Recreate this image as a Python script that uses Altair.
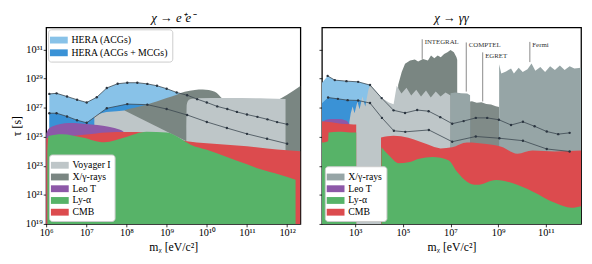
import altair as alt
import pandas as pd

FONT = "Liberation Serif"

# ---------------- values (log10 units) ----------------
# ---- left panel: chi -> e+ e- ----
L_HERA_ACG_X = [6.08, 6.26, 6.52, 6.77, 7.01, 7.26, 7.51, 7.78, 8.02, 8.27, 8.52, 8.76, 9.0, 9.25,
                9.51, 9.76, 10.0, 10.26, 10.51, 10.75, 11.0, 11.26, 11.51, 11.75, 12.0]
L_HERA_ACG_Y = [27.95, 27.99, 27.77, 27.55, 27.36, 27.72, 28.36, 28.65, 28.72, 28.72, 28.64, 28.51, 28.31, 28.05,
                27.86, 27.59, 27.36, 27.09, 26.91, 26.71, 26.53, 26.37, 26.2, 26.01, 25.86]
L_HERA_MCG_X = [6.08, 6.26, 6.52, 6.77, 7.01, 7.51, 8.02, 8.52, 9.0, 9.51, 10.0, 10.5, 11.0, 11.5, 12.0]
L_HERA_MCG_Y = [26.62, 26.62, 26.4, 26.14, 25.96, 26.96, 27.25, 27.21, 26.91, 26.5, 26.02, 25.6, 25.2, 24.86, 24.52]

L_VOY_A_X = [7.2, 7.35, 7.5, 7.75, 7.95, 8.7, 9.49]
L_VOY_A_Y = [26.42, 26.6, 26.71, 26.76, 26.8, 25.78, 24.7]
L_VOY_B_X = [9.49, 9.5, 9.54, 9.6, 9.75, 10.5, 11.5, 11.96]
L_VOY_B_Y = [25.4, 27.2, 27.5, 27.6, 27.65, 27.66, 27.63, 27.6]

L_XRAY_X = [7.9, 7.95, 8.2, 8.5, 8.75, 9.0, 9.25, 9.45, 9.7, 9.9, 10.2, 10.4, 10.6, 11.3, 11.6, 11.7,
            12.0, 12.33]
L_XRAY_Y = [26.5, 26.8, 27.0, 27.21, 27.42, 27.66, 27.9, 28.1, 28.22, 28.25, 28.1, 27.6, 27.3, 27.0, 27.3,
            27.43, 27.9, 28.5]

L_LEO_X = [6.0, 6.05, 6.15, 6.57, 7.13, 7.7, 7.95, 8.05]
L_LEO_Y = [25.2, 25.5, 25.7, 25.95, 25.85, 25.6, 25.3, 24.8]

L_CMB_X = [6.0, 7.0, 7.5, 8.0, 8.5, 9.0, 9.5, 10.0, 10.5, 11.0, 11.5, 12.0, 12.33]
L_CMB_Y = [24.9, 25.15, 25.3, 25.33, 25.3, 25.0, 24.7, 24.55, 24.45, 24.35, 24.2, 24.08, 24.0]

L_LYA_X = [6.03, 6.06, 6.4, 6.9, 7.45, 7.95, 8.5, 9.0, 9.3, 9.6, 10.0, 10.5, 11.0, 11.3, 11.8, 12.21]
L_LYA_Y = [24.0, 25.05, 25.18, 24.95, 24.62, 24.95, 25.34, 25.29, 24.95, 24.45, 24.1, 23.6, 23.1, 22.8,
           22.4, 22.05]

# ---- right panel: chi -> gamma gamma ----
R_HERA_ACG_X = [1.84, 2.14, 2.63, 3.12, 3.62, 4.11, 4.61, 5.09, 5.6, 6.08, 6.57, 7.07, 7.55, 8.06, 8.54,
                9.03, 9.54, 10.04, 10.53, 11.04, 11.52, 12.0]
R_HERA_ACG_Y = [29.19, 28.9, 28.83, 28.78, 28.56, 27.66, 26.82, 26.64, 26.84, 26.76, 26.35, 25.9, 26.08, 26.3,
                26.3, 26.17, 25.81, 26.03, 25.72, 25.36, 25.18, 25.27]
R_HERA_MCG_X = [1.86, 2.27, 2.68, 3.12, 3.62, 4.12, 4.62, 5.1, 6.09, 7.07, 8.06, 9.05, 10.04, 11.04, 12.0]
R_HERA_MCG_Y = [27.7, 27.61, 27.52, 27.5, 27.32, 26.3, 25.41, 25.34, 25.47, 24.66, 25.02, 24.9, 24.73, 24.16, 23.99]
R_EDGE_X = [1.6]
R_EDGE_ACG_Y = [28.7]
R_EDGE_MCG_Y = [27.3]

R_LIGHT_X = [2.75, 2.81, 2.89, 2.97, 3.09, 3.18, 3.3, 3.42, 3.55, 3.63, 4.12, 4.41, 4.61, 4.74, 4.94, 5.15,
             5.35, 5.56, 5.76, 5.97, 6.17, 6.38, 6.58, 6.79, 7.0]
R_LIGHT_Y = [26.0, 26.62, 27.09, 26.62, 27.43, 26.89, 27.77, 27.09, 28.24, 28.58, 27.66, 27.36, 27.23, 28.51,
             27.97, 28.38, 27.84, 28.24, 27.77, 28.18, 27.7, 28.11, 27.77, 28.04, 27.84]
R_INTEGRAL_X = [4.8, 4.95, 5.09, 5.3, 5.5, 5.64, 5.84, 6.05, 6.18, 6.32, 6.46, 6.59, 6.73, 6.87, 7.0, 7.14,
                7.25, 7.28]
R_INTEGRAL_Y = [28.56, 29.46, 30.02, 30.25, 30.32, 30.18, 30.36, 30.25, 30.59, 30.41, 30.59, 30.47, 30.7, 30.81,
                30.97, 30.81, 30.47, 30.3]
R_COMPTEL_X = [7.0, 7.2, 7.45, 7.7, 7.82]
R_COMPTEL_Y = [28.0, 28.04, 28.0, 27.97, 27.85]
R_EGRET_X = [7.82, 7.9, 8.1, 8.3, 8.5, 8.7, 8.9, 9.04]
R_EGRET_Y = [27.43, 27.45, 27.35, 27.38, 27.25, 27.22, 27.1, 27.05]
R_FERMI_X = [9.04, 9.13, 9.33, 9.54, 9.66, 9.86, 10.03, 10.23, 10.4, 10.56, 10.77, 10.97, 11.18, 11.38, 11.59,
             11.79, 12.0, 12.2, 12.48]
R_FERMI_Y = [30.0, 29.35, 29.5, 29.7, 29.35, 29.75, 29.45, 29.65, 30.05, 29.55, 29.8, 29.45, 29.85, 29.6, 29.9,
             29.6, 29.85, 29.7, 29.75]

R_LEO_X = [1.62, 1.75, 2.0, 2.3, 2.6, 2.72, 2.8]
R_LEO_Y = [25.9, 26.15, 26.22, 26.22, 26.12, 25.95, 25.5]
R_CMB_A_X = [1.6, 2.0, 2.4, 2.8, 3.04]
R_CMB_A_Y = [26.07, 26.0, 25.9, 25.86, 25.84]
R_CMB_B_X = [4.08, 4.61, 5.23, 6.05, 6.58, 7.07, 7.69, 8.51, 9.13, 9.81, 10.44, 11.38, 12.48]
R_CMB_B_Y = [24.95, 25.07, 24.93, 24.46, 24.2, 24.28, 24.61, 24.5, 24.32, 23.83, 24.05, 23.99, 24.05]
R_LYA_A_X = [1.6, 1.86, 1.88, 2.3, 2.8, 3.04]
R_LYA_A_Y = [24.6, 24.7, 25.3, 25.35, 25.3, 25.3]
R_LYA_B_X = [4.1, 4.41, 4.82, 5.23, 5.68, 6.25, 6.91, 7.28, 7.69, 8.1, 8.92, 9.62, 10.44, 11.38, 12.08, 12.48]
R_LYA_B_Y = [24.28, 23.72, 23.18, 23.24, 23.49, 23.6, 23.38, 22.57, 21.91, 21.69, 22.03, 21.8, 21.24, 20.45,
             20.11, 20.22]

ANN_LABELS = ["INTEGRAL", "COMPTEL", "EGRET", "Fermi"]
ANN_X = [5.81, 7.66, 8.35, 10.33]
ANN_TOP = [31.71, 31.49, 30.81, 31.53]
ANN_BOT = [30.36, 28.11, 27.43, 30.14]
ANN_TEXT_Y = [31.5, 31.32, 30.58, 31.32]

# axes
L_XTICKS = [6, 7, 8, 9, 10, 11, 12]
R_XTICKS = [3, 5, 7, 9, 11]
YTICKS = [19, 21, 23, 25, 27, 29, 31]
L_XDOM = [6.0, 12.33]
R_XDOM = [1.6, 12.48]
YDOM = [19.0, 32.53]

LEFT_CATS = ["Voyager I", "X/γ-rays", "Leo T", "Ly-α", "CMB"]
LEFT_COLS = ["#bec6c8", "#7a8682", "#8d58a8", "#57b368", "#dc4b4e"]
RIGHT_CATS = ["X/γ-rays", "Leo T", "Ly-α", "CMB"]
RIGHT_COLS = ["#96a5a6", "#8d58a8", "#57b368", "#dc4b4e"]
HERA_CATS = ["HERA (ACGs)", "HERA (ACGs + MCGs)"]
HERA_COLS = ["#88c2e8", "#3a92d6"]

C_LIGHT = "#bec6c8"
C_DARK = "#7a8682"

SUP = str.maketrans("0123456789", "⁰¹²³⁴⁵⁶⁷⁸⁹")


def sup_expr(exps):
    e = "round(log(datum.value)/LN10)"
    s = "''"
    for k in reversed(exps):
        s = f"({e} == {k} ? '10{str(k).translate(SUP)}' : {s})"
    return s


def frame(xs, ys, cat=None):
    d = pd.DataFrame({"m": [10.0 ** v for v in xs], "tau": [10.0 ** v for v in ys]})
    d["base"] = 1e19
    if cat is not None:
        d["cat"] = cat
    return d


YSCALE = alt.Scale(type="log", domain=[10.0 ** YDOM[0], 10.0 ** YDOM[1]])


def xenc(dom, ticks):
    return alt.X("m:Q", scale=alt.Scale(type="log", domain=[10.0 ** dom[0], 10.0 ** dom[1]]),
                 axis=alt.Axis(values=[10.0 ** t for t in ticks], labelExpr=sup_expr(ticks),
                               title="mᵪ [eV/c²]", labelFlush=False))


def yenc(show):
    ax = alt.Axis(values=[10.0 ** t for t in YTICKS], labelExpr=sup_expr(YTICKS),
                  title="τ [s]" if show else None, labels=show, titlePadding=2)
    return alt.Y("tau:Q", scale=YSCALE, axis=ax)


def legend_box(orient, offset, rowpad):
    return alt.Legend(title=None, orient=orient, offset=offset, fillColor="white", strokeColor="#cccccc",
                      cornerRadius=3, padding=4, labelFont=FONT, labelFontSize=10, labelColor="black",
                      symbolType="M-1.3,-0.5H1.3V0.5H-1.3Z", symbolSize=196, symbolStrokeWidth=0,
                      symbolOpacity=1, rowPadding=rowpad, labelOffset=6)


def area(df, X, Y, fill=None, color=None, interp="monotone"):
    enc = dict(x=X, y=Y, y2=alt.Y2("base:Q"))
    if color is not None:
        enc["color"] = color
    else:
        enc["fill"] = fill
    return alt.Chart(df).mark_area(interpolate=interp, clip=True, strokeWidth=0).encode(**enc)


def hera_line(df, X, Y):
    return alt.Chart(df).mark_line(color="#3b4650", strokeWidth=0.8, clip=True,
                                   point=alt.OverlayMarkDef(filled=True, size=6, color="#2b3540")
                                   ).encode(x=X, y=Y)


# ---------------- left panel ----------------
XL = xenc(L_XDOM, L_XTICKS)
YL = yenc(True)
lscale = alt.Scale(domain=LEFT_CATS, range=LEFT_COLS)
lleg = legend_box("bottom-left", 3, 0)
hscale = alt.Scale(domain=HERA_CATS, range=HERA_COLS)
hleg = legend_box("top-left", 2, 1)


def lfill(cat_df, interp="monotone"):
    return area(cat_df, XL, YL, fill=alt.Fill("cat:N", scale=lscale, legend=lleg), interp=interp)


left = alt.layer(
    area(frame(L_HERA_ACG_X, L_HERA_ACG_Y, HERA_CATS[0]), XL, YL,
         color=alt.Color("cat:N", scale=hscale, legend=hleg), interp="linear"),
    area(frame(L_HERA_MCG_X, L_HERA_MCG_Y, HERA_CATS[1]), XL, YL,
         color=alt.Color("cat:N", scale=hscale, legend=hleg), interp="linear"),
    lfill(frame(L_XRAY_X, L_XRAY_Y, "X/γ-rays")),
    lfill(frame(L_VOY_A_X, L_VOY_A_Y, "Voyager I"), interp="linear"),
    lfill(frame(L_VOY_B_X, L_VOY_B_Y, "Voyager I")),
    lfill(frame(L_LEO_X, L_LEO_Y, "Leo T")),
    lfill(frame(L_CMB_X, L_CMB_Y, "CMB")),
    lfill(frame(L_LYA_X, L_LYA_Y, "Ly-α")),
    hera_line(frame(L_HERA_ACG_X, L_HERA_ACG_Y), XL, YL),
    hera_line(frame(L_HERA_MCG_X, L_HERA_MCG_Y), XL, YL),
).properties(width=260, height=201, title=alt.TitleParams("χ → e⁺e⁻"))

# ---------------- right panel ----------------
XR = xenc(R_XDOM, R_XTICKS)
YR = yenc(False)
rscale = alt.Scale(domain=RIGHT_CATS, range=RIGHT_COLS)
rleg = legend_box("bottom-left", 3, 0)


def rfill(cat_df, interp="monotone"):
    return area(cat_df, XR, YR, fill=alt.Fill("cat:N", scale=rscale, legend=rleg), interp=interp)


ann = pd.DataFrame({
    "label": ANN_LABELS,
    "m": [10.0 ** v for v in ANN_X],
    "top": [10.0 ** v for v in ANN_TOP],
    "bot": [10.0 ** v for v in ANN_BOT],
    "ty": [10.0 ** v for v in ANN_TEXT_Y],
})

right = alt.layer(
    area(frame(R_EDGE_X + R_HERA_ACG_X, R_EDGE_ACG_Y + R_HERA_ACG_Y), XR, YR, fill=alt.value(HERA_COLS[0]),
         interp="linear"),
    area(frame(R_EDGE_X + R_HERA_MCG_X, R_EDGE_MCG_Y + R_HERA_MCG_Y), XR, YR, fill=alt.value(HERA_COLS[1]),
         interp="linear"),
    area(frame(R_INTEGRAL_X, R_INTEGRAL_Y), XR, YR, fill=alt.value(C_DARK), interp="linear"),
    area(frame(R_LIGHT_X, R_LIGHT_Y), XR, YR, fill=alt.value(C_LIGHT), interp="linear"),
    rfill(frame(R_COMPTEL_X, R_COMPTEL_Y, "X/γ-rays"), interp="linear"),
    area(frame(R_EGRET_X, R_EGRET_Y), XR, YR, fill=alt.value("#808b88"), interp="linear"),
    rfill(frame(R_FERMI_X, R_FERMI_Y, "X/γ-rays"), interp="linear"),
    rfill(frame(R_LEO_X, R_LEO_Y, "Leo T")),
    rfill(frame(R_CMB_A_X, R_CMB_A_Y, "CMB")),
    rfill(frame(R_CMB_B_X, R_CMB_B_Y, "CMB")),
    rfill(frame(R_LYA_A_X, R_LYA_A_Y, "Ly-α")),
    rfill(frame(R_LYA_B_X, R_LYA_B_Y, "Ly-α")),
    hera_line(frame(R_HERA_ACG_X, R_HERA_ACG_Y), XR, YR),
    hera_line(frame(R_HERA_MCG_X, R_HERA_MCG_Y), XR, YR),
    alt.Chart(ann).mark_rule(color="#555555", strokeWidth=0.7).encode(
        x=XR, y=alt.Y("top:Q", scale=YSCALE), y2="bot:Q"),
    alt.Chart(ann).mark_text(align="left", baseline="middle", dx=2.5, font=FONT, fontSize=7,
                             color="#333333").encode(x=XR, y=alt.Y("ty:Q", scale=YSCALE), text="label:N"),
).properties(width=265, height=201, title=alt.TitleParams("χ → γγ"))

chart = alt.hconcat(left, right, spacing=16).resolve_scale(
    x="independent", y="independent", fill="independent", color="independent"
).properties(padding={"left": 2, "top": 0, "right": 2, "bottom": 0}).configure_view(
    stroke="black", strokeWidth=1.3
).configure_axis(
    domain=False, grid=False, tickColor="black", tickSize=3, tickWidth=0.8, labelPadding=1,
    labelFont=FONT, labelFontSize=10.5, labelColor="black", titleFont=FONT, titleFontSize=12,
    titleColor="black", titleFontWeight="normal"
).configure_title(font=FONT, fontSize=13, fontStyle="italic", fontWeight="normal", color="black", offset=3)

chart.save("out.html", embed_options={"renderer": "svg", "actions": False})
